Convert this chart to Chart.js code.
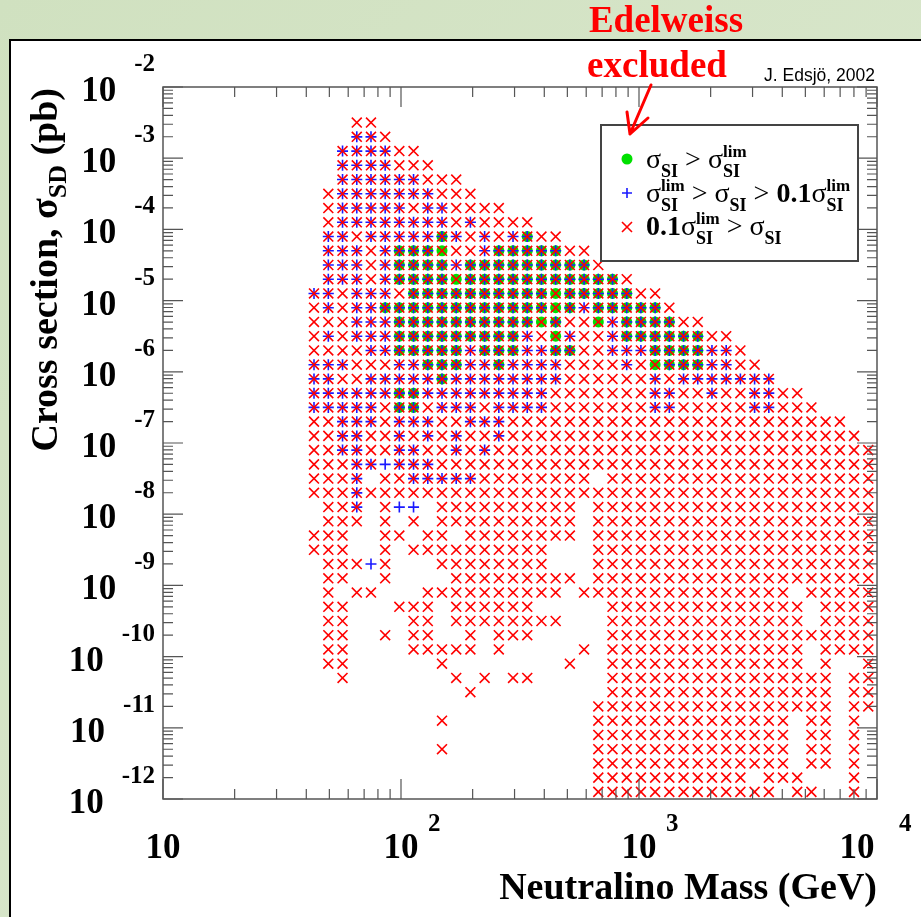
<!DOCTYPE html>
<html lang="en">
<head>
<meta charset="UTF-8">
<title>Neutralino scan</title>
<script src="https://cdn.jsdelivr.net/npm/chart.js"></script>
<style>
  body { margin: 0; background: #fff; }
  canvas { display: block; }
</style>
</head>
<body>
<canvas id="scan" width="921" height="917"></canvas>
<script>
// neutralino mass of every scan column (GeV)
const massGeV = [43.1, 49.5, 56.8, 65.2, 74.8, 85.8, 98.4, 112.9, 129.6, 148.7,
  170.6, 195.7, 224.6, 257.6, 295.6, 339.2, 389.2, 446.5, 512.3, 587.8,
  674.5, 773.9, 888.0, 1018.6, 1168.8, 1341.1, 1538.8, 1765.6, 2025.8, 2324.4,
  2666.9, 3060.0, 3510.9, 4027.2, 4621.2, 5302.2, 6083.6, 6980.1, 8009.0, 9188.8];

// log10 of sigma_SD (pb) of every scan row, top to bottom
const logSigmaSD = [-2.5, -2.7, -2.9, -3.1, -3.3, -3.5, -3.7, -3.9, -4.1, -4.3,
  -4.5, -4.7, -4.9, -5.1, -5.3, -5.5, -5.7, -5.9, -6.1, -6.3,
  -6.5, -6.7, -6.9, -7.1, -7.3, -7.5, -7.7, -7.9, -8.1, -8.3,
  -8.5, -8.7, -8.9, -9.1, -9.3, -9.5, -9.7, -9.9, -10.1, -10.3,
  -10.5, -10.7, -10.9, -11.1, -11.3, -11.5, -11.7, -11.9];

// one row per sigma, one char per mass column
// . nothing, x red, + blue, * red+blue, o green+red, @ green+blue+red
const scanGrid = [
  '...xx..... .......... .......... ..........',
  '...**x.... .......... .......... ..........',
  '..****xx.. .......... .......... ..........',
  '..****xxx. .......... .......... ..........',
  '..******xx x......... .......... ..........',
  '.x*******x xx........ .......... ..........',
  '.x*****x** xxxx...... .......... ..........',
  '.x******** x*xxxx.... .......... ..........',
  '.**x*****@ *x*x*@xx.. .......... ..........',
  '.***x*@@@o xx*@@@@@xx .......... ..........',
  '.***x*@@@@ *@@@@@@@@@ x......... ..........',
  '.***x*@@@@ o@@@@@@@@@ @@x....... ..........',
  '**x***x@@@ @@@@@@@o@@ @@@xx..... ..........',
  'x*x**@@@@@ @@@@@@@o@* @@@@@x.... ..........',
  'xxx***@@@@ @@@@@@o@xx o*@@@@xx.. ..........',
  'x*x***@@@@ @@@@@*xo*x x*@@@@@@xx ..........',
  'xxxx**@@@@ @*@@@**@@x x***@@@@** x.........',
  '***xxx**@@ @**@****xx xx*xo@@@** xx........',
  '**xx*****@ ********xx xxxx*x**** ***.......',
  '******@@** *******xxx xxxx**xx*x x**xx.....',
  '*****x@@x* **x****xxx xxxx**xxxx x**xxx....',
  'xx***x***x x***xxxxxx xxxxxxxxxx xxxxxxxx..',
  'xx**xx*x*x *xx*xxxxxx xxxxxxxxxx xxxxxxxxx.',
  'xx**xx**xx *x*xxxxxxx xxxxxxxxxx xxxxxxxxxx',
  'xxx**+***x xxxxxxxxxx xxxxxxxxxx xxxxxxxxxx',
  'xxx*.xx*** **xxxxxxxx .xxxxxxxxx xxxxxxxxxx',
  'xxx*xxxxxx xxxxxxxxxx xxxxxxxxxx xxxxxxxxxx',
  '.xx*.x++.x xxxxxxxxx. xxxxxxxxxx xxxxxxxxxx',
  '.xxx.x.x.x xxxxxxxxx. xxxxxxxxxx xxxxxxxxxx',
  'xxx..xx.xx .xxxxxxxx. xxxxxxxxxx xxxxxxxxxx',
  'xxx..x.xxx xxxxxxx... xxxxxxxxxx xxxxxxxxxx',
  '.xxx+x...x xxxxxxx... xxxxxxxxxx xxxxxxxxxx',
  '.xx..x.... xxxxxxxxx. xxxxxxxxxx xxxxxxxxxx',
  '.x.xx...xx xxxxxxxx.x xxxxxxxxxx xxxx.xxxxx',
  '.xx...xxx. xxxxxx.... .xxxxxxxxx xxxxx.xxxx',
  '.xx....xx. xxxxxxxx.. .xxxxxxxxx xxxxx.xxxx',
  '.xx..x.xx. .x.xxx.... .xxxxxxxxx xxxxxxxxxx',
  '.xx....xxx xx.x.....x .xxxxxxxxx xxxxx.xxxx',
  '.xx......x ........x. .xxxxxxxxx xxxxx.x..x',
  '..x....... x.x.xx.... .xxxxxxxxx xxxxxxx.xx',
  '.......... .x........ .xxxxxxxxx xxxxxxx.xx',
  '.......... .......... xxxxxxxxxx xxxxxxx.xx',
  '.........x .......... xxxxxxxxxx xxxx.xx.x.',
  '.......... .......... xxxxxxxxxx xxxx.xx.x.',
  '.........x .......... xxxxxxxxxx xxxx.xx.x.',
  '.......... .......... xxxxxxxxxx xxxx.xx.x.',
  '.......... .......... xxxxxxxxxx x.xxx...x.',
  '.......... .......... xxxxxxxxxx xxx.xx..x.'
];

const xDecades = [1, 2, 3, 4];
const yDecades = [-2, -3, -4, -5, -6, -7, -8, -9, -10, -11, -12];

const redPts = [], bluePts = [], greenPts = [];
scanGrid.forEach((row, k) => {
  const cells = row.replace(/ /g, '');
  for (let i = 0; i < cells.length; i++) {
    const c = cells[i];
    if (c === '.') continue;
    const p = { x: massGeV[i], y: Math.pow(10, logSigmaSD[k]) };
    if ('x*o@'.includes(c)) redPts.push(p);
    if ('+*@'.includes(c)) bluePts.push(p);
    if ('o@'.includes(c)) greenPts.push(p);
  }
});

const SERIF = '"Liberation Serif", "Times New Roman", serif';

function runWidth(ctx, parts) {
  let w = 0;
  for (const p of parts) {
    if (p.sup !== undefined) {
      ctx.font = p.supFont; const a = ctx.measureText(p.sup).width;
      ctx.font = p.subFont; const b = ctx.measureText(p.sub).width;
      w += Math.max(a, b);
    } else {
      ctx.font = p.font; w += ctx.measureText(p.t).width;
    }
  }
  return w;
}

function drawRun(ctx, parts, x, y) {
  for (const p of parts) {
    if (p.sup !== undefined) {
      ctx.font = p.supFont; const a = ctx.measureText(p.sup).width;
      ctx.fillText(p.sup, x, y - 11);
      ctx.font = p.subFont; const b = ctx.measureText(p.sub).width;
      ctx.fillText(p.sub, x, y + 9);
      x += Math.max(a, b);
    } else {
      ctx.font = p.font;
      ctx.fillText(p.t, x, y + (p.dy || 0));
      x += ctx.measureText(p.t).width;
    }
  }
}

const pagePlugin = {
  id: 'page',
  beforeDraw(chart) {
    const ctx = chart.ctx;
    const g = ctx.createLinearGradient(0, 0, 921, 917);
    g.addColorStop(0, '#d0e1c0');
    g.addColorStop(1, '#dde9d1');
    ctx.save();
    ctx.fillStyle = g;
    ctx.fillRect(0, 0, 921, 917);
    ctx.fillStyle = '#fff';
    ctx.fillRect(10, 40, 911, 877);
    ctx.strokeStyle = '#000';
    ctx.lineWidth = 2;
    ctx.beginPath();
    ctx.moveTo(10, 917); ctx.lineTo(10, 40); ctx.lineTo(921, 40);
    ctx.stroke();
    ctx.restore();
  },
  afterDatasetsDraw(chart) {
    const ctx = chart.ctx;
    const xs = chart.scales.x, ys = chart.scales.y;
    const { left, right, top, bottom } = chart.chartArea;
    ctx.save();

    // frame and ticks
    ctx.strokeStyle = '#555';
    ctx.lineWidth = 1.5;
    ctx.strokeRect(left, top, right - left, bottom - top);
    ctx.lineWidth = 1.2;
    ctx.beginPath();
    for (let d = 1; d <= 4; d++) {
      for (let m = 1; m <= 9; m++) {
        if (d === 4 && m > 1) break;
        const px = xs.getPixelForValue(m * Math.pow(10, d));
        const len = m === 1 ? 20 : 10;
        ctx.moveTo(px, bottom); ctx.lineTo(px, bottom - len);
        ctx.moveTo(px, top); ctx.lineTo(px, top + len);
      }
    }
    for (let d = -12; d <= -2; d++) {
      for (let m = 1; m <= 9; m++) {
        if (d === -2 && m > 1) break;
        const py = ys.getPixelForValue(m * Math.pow(10, d));
        const len = m === 1 ? 20 : 10;
        ctx.moveTo(left, py); ctx.lineTo(left + len, py);
        ctx.moveTo(right, py); ctx.lineTo(right - len, py);
      }
    }
    ctx.stroke();

    // tick labels
    ctx.fillStyle = '#000';
    ctx.textBaseline = 'alphabetic';
    const mainF = 'bold 35px ' + SERIF, expF = 'bold 25px ' + SERIF;
    yDecades.forEach(e => {
      const py = ys.getPixelForValue(Math.pow(10, e));
      const es = String(e);
      ctx.font = expF;
      const ew = ctx.measureText(es).width;
      ctx.textAlign = 'right';
      ctx.fillText(es, 155, py - 16);
      ctx.font = mainF;
      ctx.fillText('10', 155 - ew - 18, py + 14);
    });
    xDecades.forEach(e => {
      const px = xs.getPixelForValue(Math.pow(10, e));
      const shift = e === 4 ? -20 : 0;
      ctx.font = mainF;
      ctx.textAlign = 'center';
      ctx.fillText('10', px + shift, 858);
      if (e > 1) {
        ctx.font = expF;
        ctx.textAlign = 'left';
        ctx.fillText(String(e), px + (e === 4 ? 22 : 27), 831);
      }
    });

    // axis titles
    ctx.font = 'bold 38px ' + SERIF;
    ctx.textAlign = 'right';
    ctx.fillText('Neutralino Mass (GeV)', 877, 899);

    ctx.textAlign = 'left';
    const yTitle = [
      { t: 'Cross section, σ', font: 'bold 38px ' + SERIF },
      { t: 'SD', font: 'bold 26px ' + SERIF, dy: 9 },
      { t: ' (pb)', font: 'bold 38px ' + SERIF }
    ];
    ctx.save();
    ctx.translate(57, 88);
    ctx.rotate(-Math.PI / 2);
    drawRun(ctx, yTitle, -runWidth(ctx, yTitle), 0);
    ctx.restore();

    // credit
    ctx.font = '17.5px "Liberation Sans", Arial, sans-serif';
    ctx.textAlign = 'right';
    ctx.fillText('J. Edsjö, 2002', 875, 81);

    // legend box
    ctx.fillStyle = '#fff';
    ctx.fillRect(601, 125, 257, 136);
    ctx.strokeStyle = '#444';
    ctx.lineWidth = 2;
    ctx.strokeRect(601, 125, 257, 136);

    ctx.fillStyle = '#00e000';
    ctx.beginPath(); ctx.arc(627, 159, 5.5, 0, Math.PI * 2); ctx.fill();
    ctx.strokeStyle = '#1a1aff'; ctx.lineWidth = 1.6;
    ctx.beginPath();
    ctx.moveTo(622, 193); ctx.lineTo(632, 193);
    ctx.moveTo(627, 188); ctx.lineTo(627, 198);
    ctx.stroke();
    ctx.strokeStyle = '#ff0000';
    ctx.beginPath();
    ctx.moveTo(622, 222); ctx.lineTo(632, 232);
    ctx.moveTo(632, 222); ctx.lineTo(622, 232);
    ctx.stroke();

    const big = '28px ' + SERIF, bigB = 'bold 28px ' + SERIF;
    const subF = 'bold 18px ' + SERIF, supF = 'bold 17px ' + SERIF;
    const sig = { t: 'σ', font: big };
    const si = { t: 'SI', font: subF, dy: 9 };
    const lim = { sup: 'lim', sub: 'SI', supFont: supF, subFont: subF };
    const gt = { t: ' > ', font: big };
    const tenth = { t: '0.1', font: bigB };
    ctx.fillStyle = '#000';
    ctx.textAlign = 'left';
    drawRun(ctx, [sig, si, gt, sig, lim], 646, 168);
    drawRun(ctx, [sig, lim, gt, sig, si, gt, tenth, sig, lim], 646, 202);
    drawRun(ctx, [tenth, sig, lim, gt, sig, si], 646, 235);

    // Edelweiss annotation
    ctx.fillStyle = '#ff0000';
    ctx.font = 'bold 37px ' + SERIF;
    ctx.textAlign = 'center';
    ctx.fillText('Edelweiss', 666, 32);
    ctx.fillText('excluded', 657, 77);
    ctx.strokeStyle = '#ff0000';
    ctx.lineWidth = 3;
    ctx.lineCap = 'round';
    ctx.beginPath();
    ctx.moveTo(651, 85); ctx.lineTo(630, 134);
    ctx.moveTo(630, 134); ctx.lineTo(627, 112);
    ctx.moveTo(630, 134); ctx.lineTo(648, 118);
    ctx.stroke();

    ctx.restore();
  }
};

new Chart(document.getElementById('scan'), {
  type: 'scatter',
  data: {
    datasets: [
      { label: '0.1 sigma lim > sigma SI', data: redPts, pointStyle: 'crossRot',
        pointRadius: 7, borderColor: '#ff0000', backgroundColor: '#ff0000', borderWidth: 1.6 },
      { label: 'sigma lim > sigma SI > 0.1 sigma lim', data: bluePts, pointStyle: 'cross',
        pointRadius: 5.5, borderColor: '#1a1aff', backgroundColor: '#1a1aff', borderWidth: 1.6 },
      { label: 'sigma SI > sigma lim', data: greenPts, pointStyle: 'circle',
        pointRadius: 5.5, backgroundColor: '#00e000', borderWidth: 0 }
    ]
  },
  options: {
    responsive: false,
    animation: false,
    devicePixelRatio: 1,
    events: [],
    layout: { padding: { left: 163, right: 44, top: 87, bottom: 118 } },
    scales: {
      x: { type: 'logarithmic', min: 10, max: 10000, display: false },
      y: { type: 'logarithmic', min: 1e-12, max: 1e-2, display: false }
    },
    plugins: { legend: { display: false }, tooltip: { enabled: false } }
  },
  plugins: [pagePlugin]
});
</script>
</body>
</html>
